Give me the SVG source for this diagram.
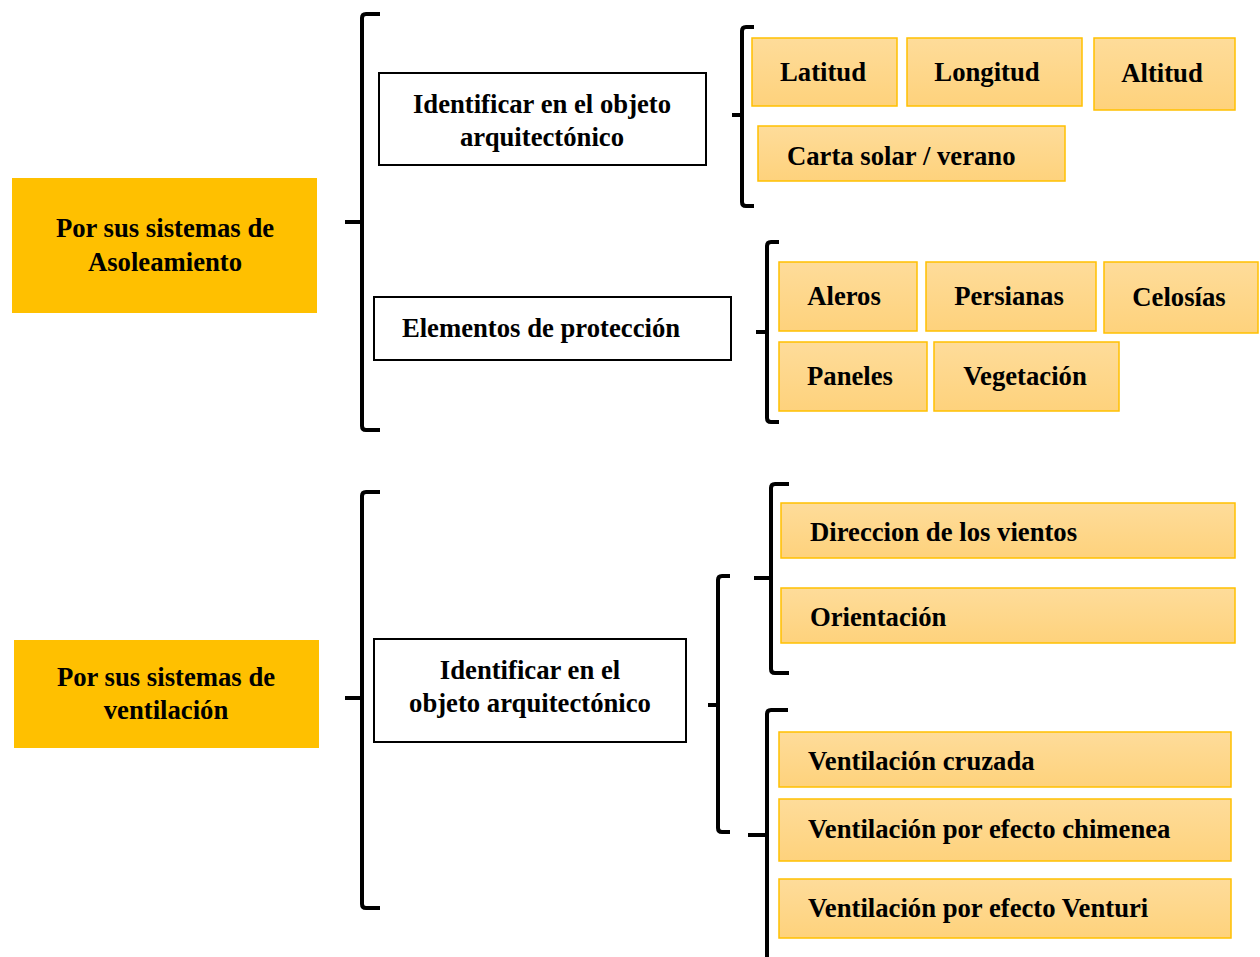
<svg xmlns="http://www.w3.org/2000/svg" width="1260" height="957" viewBox="0 0 1260 957">
<defs>
<linearGradient id="g" x1="0" y1="0" x2="0" y2="1">
<stop offset="0" stop-color="#FEDC9A"/>
<stop offset="1" stop-color="#FED27C"/>
</linearGradient>
<style>
text{font-family:"Liberation Serif","Times New Roman",serif;font-weight:bold;font-size:26.7px;fill:#000}
.c{text-anchor:middle}
.main{fill:#FFC000;stroke:none}
.wb{fill:#fff;stroke:#000;stroke-width:2}
.yb{fill:url(#g);stroke:#FFC000;stroke-width:1.5}
.br{fill:none;stroke:#000;stroke-width:4;stroke-linejoin:round}
</style>
</defs>
<rect width="1260" height="957" fill="#fff"/>
<g id="connectors">
<path class="br" d="M380,14 H366 Q362,14 362,18 V426 Q362,430 366,430 H380 M345,222 H362"/>
<path class="br" d="M380,492 H366 Q362,492 362,496 V904 Q362,908 366,908 H380 M345,698 H362"/>
<path class="br" d="M754,27 H746 Q742,27 742,31 V202 Q742,206 746,206 H754 M732,115 H742"/>
<path class="br" d="M779,242 H771 Q767,242 767,246 V418 Q767,422 771,422 H779 M756,332 H767"/>
<path class="br" d="M789,484 H775 Q771,484 771,488 V669 Q771,673 775,673 H789 M754,578 H771"/>
<path class="br" d="M730,576 H722 Q718,576 718,580 V828 Q718,832 722,832 H730 M708,705 H718"/>
<path class="br" d="M788,710 H771 Q767,710 767,714 V957 M748,835 H767"/>
</g>
<g id="n-asoleamiento"><rect class="main" x="12" y="178" width="305" height="135"/><text class="c" x="165" y="237">Por sus sistemas de</text><text class="c" x="165" y="271">Asoleamiento</text></g>
<g id="n-ventilacion"><rect class="main" x="14" y="640" width="305" height="108"/><text class="c" x="166" y="686">Por sus sistemas de</text><text class="c" x="166" y="719">ventilación</text></g>
<g id="n-identificar1"><rect class="wb" x="379" y="73" width="327" height="92"/><text class="c" x="542" y="113">Identificar en el objeto</text><text class="c" x="542" y="146">arquitectónico</text></g>
<g id="n-elementos"><rect class="wb" x="374" y="297" width="357" height="63"/><text class="c" x="541" y="337">Elementos de protección</text></g>
<g id="n-identificar2"><rect class="wb" x="374" y="639" width="312" height="103"/><text class="c" x="530" y="679">Identificar en el</text><text class="c" x="530" y="712">objeto arquitectónico</text></g>
<g id="n-latitud"><rect class="yb" x="752" y="38" width="145" height="68"/><text class="c" x="823" y="81">Latitud</text></g>
<g id="n-longitud"><rect class="yb" x="907" y="38" width="175" height="68"/><text class="c" x="987" y="81">Longitud</text></g>
<g id="n-altitud"><rect class="yb" x="1094" y="38" width="141" height="72"/><text class="c" x="1162" y="82">Altitud</text></g>
<g id="n-carta"><rect class="yb" x="758" y="126" width="307" height="55"/><text x="787" y="165">Carta solar / verano</text></g>
<g id="n-aleros"><rect class="yb" x="779" y="262" width="138" height="69"/><text class="c" x="844" y="305">Aleros</text></g>
<g id="n-persianas"><rect class="yb" x="926" y="262" width="170" height="69"/><text class="c" x="1009" y="305">Persianas</text></g>
<g id="n-celosias"><rect class="yb" x="1104" y="262" width="154" height="71"/><text class="c" x="1179" y="306">Celosías</text></g>
<g id="n-paneles"><rect class="yb" x="779" y="342" width="148" height="69"/><text class="c" x="850" y="385">Paneles</text></g>
<g id="n-vegetacion"><rect class="yb" x="934" y="342" width="185" height="69"/><text class="c" x="1025" y="385">Vegetación</text></g>
<g id="n-direccion"><rect class="yb" x="781" y="503" width="454" height="55"/><text x="810" y="541">Direccion de los vientos</text></g>
<g id="n-orientacion"><rect class="yb" x="781" y="588" width="454" height="55"/><text x="810" y="626">Orientación</text></g>
<g id="n-cruzada"><rect class="yb" x="779" y="732" width="452" height="55"/><text x="808" y="770">Ventilación cruzada</text></g>
<g id="n-chimenea"><rect class="yb" x="779" y="799" width="452" height="62"/><text x="808" y="838">Ventilación por efecto chimenea</text></g>
<g id="n-venturi"><rect class="yb" x="779" y="879" width="452" height="59"/><text x="808" y="917">Ventilación por efecto Venturi</text></g>
</svg>
